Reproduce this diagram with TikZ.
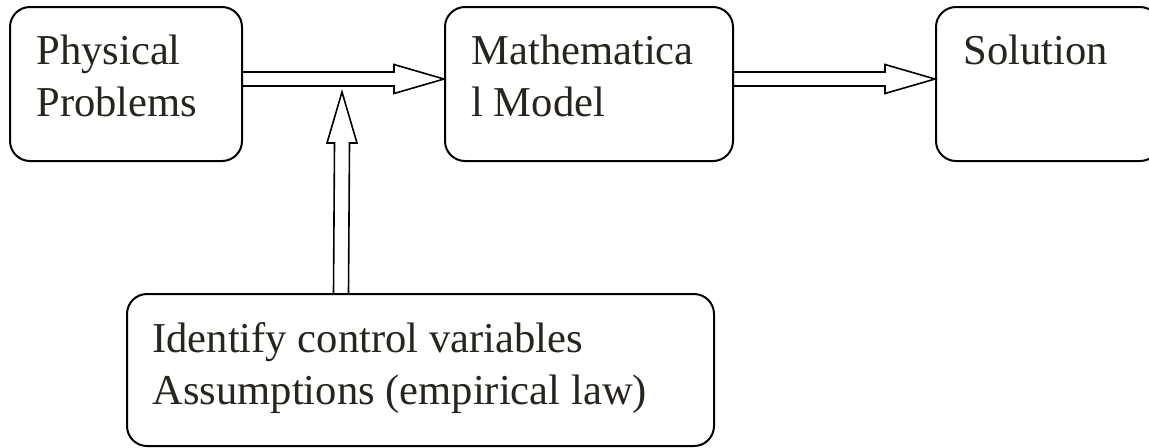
\documentclass[tikz,border=0pt]{standalone}
\usepackage{fontspec}
\setmainfont{Liberation Serif}
\usetikzlibrary{calc}
\usetikzlibrary{positioning}
\definecolor{inkgray}{RGB}{40,36,30}

\tikzset{
  stage/.style={draw, line width=1pt, rounded corners=10pt, inner sep=0pt, minimum height=77pt},
  stagetext/.style={anchor=base west, inner sep=0pt, align=left, text=inkgray,
    font=\fontsize{21.3}{26}\selectfont},
  arrowline/.style={draw, line width=0.8pt, line join=miter}
}

\begin{document}
\begin{tikzpicture}[x=0.5pt, y=-0.5pt]
      \useasboundingbox (0,0) rectangle (1149,447);

      % the stages
      \node[stage, minimum width=116pt] (phys) at (126,84) {};
      \node[stage, minimum width=144pt, right=100.5pt of phys] (math) {};
      \node[stage, minimum width=112pt, right=100.5pt of math] (sol) {};
      \node[stage, minimum width=293.5pt, minimum height=76pt] (ident) at (420.5,370) {};

      % base anchor sits on the last line
      \node[stagetext] (physlbl) at ($(phys.north west)+(27,110)$) {Physical\\Problems};
      \node[stagetext] (mathlbl) at ($(math.north west)+(27,110)$) {Mathematica\\l Model};
      \node[stagetext] (sollbl) at ($(sol.north west)+(28,58)$) {Solution};
      \node[stagetext] (identlbl) at ($(ident.north west)+(26,111)$) {Identify control variables\\Assumptions (empirical law)};

      % block arrows between the stages
      \foreach \from/\to in {phys/math, math/sol} {
        \coordinate (s) at ($(\from.east)+(0,-5)$);
        \coordinate (e) at ($(\to.west)+(0,-5)$);
        \draw[arrowline] ($(s)+(0,-7)$) -- ($(e)+(-50,-7)$) -- ($(e)+(-50,-14.5)$) -- (e)
          -- ($(e)+(-50,14.5)$) -- ($(e)+(-50,7)$) -- ($(s)+(0,7)$);
      }

      % assumptions feed the modelling step
      \coordinate (vbase) at ($(ident.north west)+(215,0)$);
      \coordinate (vtip) at (342,92);
      \draw[arrowline] ($(vbase)+(-7.5,0)$) -- ($(vtip)+(-7.5,51)$) -- ($(vtip)+(-15,51)$) -- (vtip)
        -- ($(vtip)+(15,51)$) -- ($(vtip)+(7.5,51)$) -- ($(vbase)+(7.5,0)$);
    \end{tikzpicture}
\end{document}
